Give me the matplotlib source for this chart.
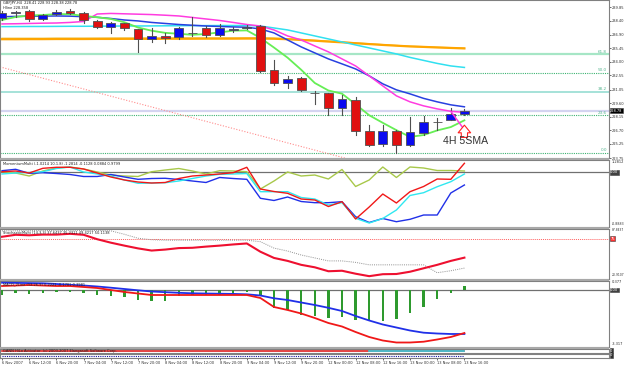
import matplotlib
matplotlib.use('Agg')
import matplotlib.pyplot as plt
from matplotlib.patches import Rectangle

# ---------------- data ----------------
opens  = [238.65,239.25,239.43,238.55,239.11,239.43,239.19,238.40,237.76,238.12,
          237.48,236.42,236.77,236.63,237.06,237.62,236.88,237.45,237.59,237.83,
          233.15,231.73,232.26,230.67,230.67,229.07,229.95,226.58,225.24,226.65,
          225.16,226.41,227.54,227.82,228.41]
highs  = [239.40,239.45,239.50,239.08,239.54,239.61,239.30,238.47,238.29,238.20,
          237.55,237.59,237.06,237.76,238.82,237.83,238.05,237.76,237.94,237.94,
          234.21,232.51,232.37,230.94,230.67,230.49,230.30,227.29,227.29,226.70,
          228.11,228.25,228.00,229.07,228.93]
lows   = [238.50,238.82,238.40,238.47,239.00,239.10,238.12,237.59,237.06,237.41,
          235.10,236.16,236.06,236.42,236.77,236.63,236.77,237.23,237.51,232.97,
          231.55,231.20,230.94,229.53,228.36,228.36,226.23,224.98,224.98,224.28,
          224.98,226.23,226.76,227.75,228.38]
closes = [239.25,239.36,238.55,239.00,239.36,239.19,238.47,237.76,238.12,237.59,
          236.42,236.77,236.59,237.62,237.07,236.88,237.62,237.48,237.76,233.07,
          231.73,232.22,231.02,230.69,229.07,230.03,226.58,225.16,226.65,225.16,
          226.47,227.54,227.64,228.43,228.78]

ma_green   = [238.47,238.79,238.95,239.00,239.10,239.09,238.91,238.76,238.58,238.23,
              237.67,237.33,237.10,237.00,236.89,236.98,237.15,237.33,237.36,236.56,
              235.53,234.45,233.16,231.75,230.95,230.61,229.48,228.31,227.50,226.72,
              226.00,226.20,226.69,227.05,227.77]
ma_magenta = [238.05,238.07,238.10,238.13,238.15,238.21,238.31,239.11,239.17,239.13,
              239.09,239.05,238.98,238.90,238.74,238.58,238.42,238.21,237.99,237.83,
              237.41,236.77,236.34,235.70,235.07,234.32,233.57,232.51,231.44,230.38,
              229.74,229.31,228.99,228.73,228.62]
ma_blue    = [238.82,238.85,238.87,238.89,238.90,238.88,238.82,238.76,238.63,238.47,
              238.37,238.21,238.10,237.99,237.91,237.83,237.78,237.73,237.70,237.51,
              237.09,236.34,235.60,234.96,234.32,233.79,233.25,232.51,231.66,231.02,
              230.59,230.11,229.74,229.42,229.21]
ma_cyan    = [237.76,237.77,237.78,237.78,237.79,237.80,237.80,237.81,237.82,237.83,
              237.83,237.84,237.85,237.86,237.87,237.87,237.88,237.88,237.89,237.83,
              237.62,237.41,237.09,236.77,236.45,236.13,235.81,235.49,235.17,234.85,
              234.48,234.16,233.84,233.57,233.41]
ma_orange  = [236.42,236.42,236.43,236.43,236.44,236.44,236.44,236.45,236.45,236.46,
              236.46,236.46,236.47,236.47,236.47,236.48,236.48,236.48,236.49,236.49,
              236.47,236.42,236.34,236.26,236.17,236.09,235.99,235.90,235.81,235.73,
              235.65,235.60,235.54,235.49,235.44]
ma_gold    = [236.52,236.52,236.52,236.52,236.53,236.53,236.53,236.53,236.54,236.54,
              236.54,236.54,236.54,236.55,236.55,236.55,236.55,236.55,236.56,236.56,
              236.53,236.47,236.39,236.30,236.21,236.12,236.02,235.93,235.84,235.75,
              235.67,235.62,235.56,235.51,235.46]

fib_levels = [224.28, 228.30, 230.79, 232.80, 234.81]
fib_names  = ["0.0", "23.6", "38.2", "50.0", "61.8"]
trend_x = [-0.15, 25.2]
trend_y = [233.47, 223.75]
price_ticks = [223.75,225.25,226.70,228.15,229.60,231.05,232.55,234.00,235.45,236.90,238.40,239.85]

mom_red   = [0.902,0.925,0.860,1.012,1.045,1.045,0.990,0.860,0.731,0.634,
             0.569,0.536,0.553,0.682,0.763,0.795,0.828,0.870,1.045,0.342,
             0.261,0.203,0.018,-0.014,-0.225,-0.069,-0.629,-0.241,0.180,-0.111,
             0.255,0.423,0.666,0.656,1.174]
mom_blue  = [0.935,0.980,0.850,0.870,0.844,0.812,0.747,0.747,0.812,0.731,
             0.656,0.682,0.689,0.650,0.601,0.553,0.715,0.682,0.656,0.041,
             -0.030,0.083,-0.063,-0.101,-0.101,-0.069,-0.555,-0.742,-0.613,-0.717,
             -0.639,-0.500,-0.500,0.213,0.472]
mom_cyan  = [0.828,0.860,0.877,0.902,1.006,1.055,0.893,0.828,0.763,0.634,
             0.527,0.536,0.546,0.601,0.682,0.763,0.818,0.828,0.844,0.255,
             0.255,0.255,0.067,0.018,-0.176,-0.101,-0.607,-0.759,-0.613,-0.338,
             0.132,0.222,0.416,0.578,0.828]
mom_olive = [0.902,0.860,0.763,0.925,1.022,1.055,0.990,0.893,0.795,0.763,
             0.747,0.902,0.957,1.006,0.925,0.828,0.935,0.925,0.902,0.342,
             0.601,0.893,0.763,0.795,0.666,0.974,0.423,0.634,1.055,0.715,
             1.055,1.022,0.941,0.941,0.925]
mom_level = 0.883

st_red  = [77.80,80.48,79.81,80.75,80.75,81.82,80.48,74.46,69.77,65.75,
           62.00,59.06,60.40,62.41,62.81,64.42,65.75,67.36,68.70,57.46,
           49.02,45.00,39.65,36.30,30.95,31.62,27.60,24.25,26.93,27.20,
           30.28,34.96,39.65,45.00,49.42]
st_gray = [85.84,85.84,86.10,86.24,86.50,86.50,86.50,86.50,85.84,81.15,
           75.80,73.79,73.12,73.12,73.12,73.12,73.12,73.12,73.12,71.11,
           62.41,58.39,53.03,49.02,45.00,45.00,43.00,39.65,39.65,39.65,
           39.65,39.65,28.94,31.62,35.23]
st_level = 75.0

hist = [-0.278,-0.183,-0.222,-0.150,-0.095,-0.095,-0.183,-0.278,-0.334,-0.373,
        -0.556,-0.595,-0.595,-0.334,-0.278,-0.278,-0.278,-0.150,-0.095,-0.278,
        -1.017,-1.112,-1.390,-1.446,-1.573,-1.485,-1.668,-1.668,-1.707,-1.629,
        -1.295,-0.929,-0.517,-0.150,0.222]
m_blue = [0.406,0.395,0.384,0.373,0.334,0.289,0.250,0.195,0.128,0.056,
          -0.017,-0.083,-0.122,-0.156,-0.183,-0.195,-0.206,-0.217,-0.239,-0.306,
          -0.461,-0.556,-0.695,-0.834,-0.990,-1.168,-1.446,-1.696,-1.918,-2.085,
          -2.252,-2.374,-2.419,-2.446,-2.446]
m_red  = [0.222,0.250,0.278,0.250,0.222,0.222,0.167,0.111,0.000,-0.111,
          -0.195,-0.278,-0.278,-0.278,-0.278,-0.278,-0.278,-0.278,-0.278,-0.445,
          -0.945,-1.112,-1.307,-1.557,-1.835,-2.029,-2.335,-2.613,-2.808,-2.919,
          -2.919,-2.875,-2.752,-2.613,-2.391]

time_labels = ["6 Nov 2007","6 Nov 12:00","6 Nov 20:00","7 Nov 04:00","7 Nov 12:00",
               "7 Nov 20:00","8 Nov 04:00","8 Nov 12:00","8 Nov 20:00","9 Nov 04:00",
               "9 Nov 12:00","9 Nov 20:00","12 Nov 00:00","12 Nov 08:00","12 Nov 16:00",
               "13 Nov 00:00","13 Nov 08:00","13 Nov 16:00"]

# ---------------- layout ----------------
W, H = 625, 365
fig = plt.figure(figsize=(W/100, H/100), dpi=100)
fig.patch.set_facecolor('white')
XR = 609
n = len(closes)
xs = list(range(n))
XLIM = (-2/13.6, 607/13.6)
FS = 2.6
SP = '#808080'

def make_ax(top, bottom):
    ax = fig.add_axes([0, (H-bottom)/H, XR/W, (bottom-top)/H])
    ax.set_xlim(*XLIM)
    ax.set_facecolor('white')
    for s in ax.spines.values():
        s.set_color(SP); s.set_linewidth(0.8)
    ax.set_xticks([])
    ax.yaxis.tick_right()
    ax.tick_params(axis='y', length=1.5, width=0.5, colors='#303030', labelsize=FS, pad=0.8)
    return ax

def rlabel(ax, y, txt, box=None, fc='black', tc='white', fs=FS):
    if box:
        ax.text(1.002, y, txt, transform=ax.get_yaxis_transform(), fontsize=fs, color=tc,
                va='center', ha='left', bbox=dict(boxstyle='square,pad=0.12', fc=fc, ec='#404040', lw=0.4))
    else:
        ax.text(1.004, y, txt, transform=ax.get_yaxis_transform(), fontsize=fs, color='#303030',
                va='center', ha='left')

# main
ax = make_ax(0, 158)
ax.set_ylim(223.776, 240.603)
ax.set_yticks(price_ticks)
ax.set_yticklabels([f"{v:.2f}" for v in price_ticks])

fib_styles = {"0.0": ('#3CB371', (0, (1, 1)), 0.8), "23.6": ('#3CB371', (0, (1, 1)), 0.8),
              "38.2": ('#9EDFD6', '-', 1.3), "50.0": ('#3CB371', (0, (1, 1)), 0.8),
              "61.8": ('#A6E6C6', '-', 1.6)}
for lv, nm in zip(fib_levels, fib_names):
    c, ls, lw = fib_styles[nm]
    ax.axhline(lv, color=c, ls=ls, lw=lw, zorder=1)
    ax.text(44.5, lv + 0.08, nm, fontsize=3.0, color='#55B58F', ha='right', va='bottom', zorder=2)

ax.axhline(closes[-1], color='#D4D4F0', lw=1.6, zorder=1)
ax.plot(trend_x, trend_y, color='#FF8C8C', lw=0.8, ls=(0, (1, 1.5)), zorder=1)

ax.plot(xs, ma_gold, color='#E8C44A', lw=1.0, zorder=3)
ax.plot(xs, ma_orange, color='#FFA500', lw=1.6, zorder=3)
ax.plot(xs, ma_cyan, color='#30E0F0', lw=1.1, zorder=3)
ax.plot(xs, ma_blue, color='#2840E0', lw=1.1, zorder=3)
ax.plot(xs, ma_magenta, color='#FF3CE0', lw=1.1, zorder=3)
ax.plot(xs, ma_green, color='#66EE55', lw=1.3, zorder=3)

for i in range(n):
    o, h, l, c = opens[i], highs[i], lows[i], closes[i]
    ax.plot([i, i], [l, h], color='#505050', lw=0.8, zorder=4)
    col = '#0A0AF0' if c >= o else '#E01010'
    ax.bar(i, max(abs(c - o), 0.01), bottom=min(o, c), width=0.66, color=col,
           edgecolor='#505050', linewidth=0.6, zorder=5)

ax.plot([33.0, 33.85], [228.73, 227.05], color='#FF3CE0', lw=1.1, zorder=6)
ax.annotate('', xy=(34.0, 227.55), xytext=(34.0, 225.65),
            arrowprops=dict(arrowstyle='simple,head_length=0.55,head_width=0.9,tail_width=0.45',
                            fc='white', ec='#FF2020', lw=0.8), zorder=6)
ax.text(32.45, 225.55, "4H 5SMA", fontsize=7.6, color='#333333', family='Liberation Sans',
        va='center', ha='left', zorder=6)

ax.text(0.005, 0.995, "GBPJPY,H4  228.41 228.93 228.38 228.78", transform=ax.transAxes,
        fontsize=FS, va='top', ha='left', color='#202020')
ax.text(0.005, 0.96, "Hline 228.358", transform=ax.transAxes,
        fontsize=FS, va='top', ha='left', color='#202020')
rlabel(ax, closes[-1], f"{closes[-1]:.2f}", box=True)

# panel 2: momentum
a2 = make_ax(160, 227)
a2.set_ylim(-0.8883, 1.2812)
a2.set_yticks([])
a2.axhline(mom_level, color='#707070', lw=0.9)
a2.plot(xs, mom_olive, color='#A8C84A', lw=1.0)
a2.plot(xs, mom_blue, color='#2030E8', lw=1.0)
a2.plot(xs, mom_cyan, color='#30E8F0', lw=1.0)
a2.plot(xs, mom_red, color='#F01818', lw=1.0)
a2.text(0.005, 0.97, "MomentumMulti (-1.0214 10.1.8) -1.2814 -0.1128 0.0884 0.9799",
        transform=a2.transAxes, fontsize=FS, va='top', ha='left', color='#202020')
rlabel(a2, 1.2812 - 0.07, "1.2812")
rlabel(a2, -0.8883 + 0.1, "-0.8883", fs=2.3)
rlabel(a2, mom_level, "0.00", box=True, fc='#404040', tc='white')

# panel 3
a3 = make_ax(229, 279)
a3.set_ylim(20.9107 - 0.5, 87.8437 + 0.5)
a3.set_yticks([])
a3.axhline(st_level, color='#FF6060', lw=0.7, ls=(0, (1, 1)))
a3.plot(xs, st_gray, color='#909090', lw=0.7, ls=(0, (1, 1.2)))
a3.plot(xs, st_red, color='#EE1030', lw=1.5)
a3.text(0.005, 0.97, "StochasticMulti (14,3,3) 37.6437 35.2311 49.4217 50.1138",
        transform=a3.transAxes, fontsize=FS, va='top', ha='left', color='#202020')
rlabel(a3, 87.8437 - 1.5, "87.8437", fs=2.2)
rlabel(a3, st_level, "75", box=True, fc='#FF3030', tc='white')
rlabel(a3, 20.9107 + 4.5, "20.9107", fs=2.2)

# panel 4
a4 = make_ax(281, 347)
a4.set_ylim(-0.0556 * 57, 0.0556 * 9)
a4.set_yticks([])
a4.axhline(0, color='#707070', lw=0.9, zorder=1)
a4.bar(xs, hist, width=0.18, color='#2E9A2E', zorder=2)
a4.plot(xs, m_blue, color='#2030E8', lw=1.3, zorder=3)
a4.plot(xs, m_red, color='#F01818', lw=1.3, zorder=3)
a4.text(0.005, 0.985, "MACD_2Line (12,26,9) 0.2221 -0.1781 0.3981",
        transform=a4.transAxes, fontsize=FS, va='top', ha='left', color='#202020')
rlabel(a4, 0.42, "0.377")
rlabel(a4, 0, "0.00", box=True, fc='#404040', tc='white')
rlabel(a4, -3.0, "-3.317")

# tiny panels
a5 = make_ax(349, 352.5)
a5.set_ylim(0, 1); a5.set_yticks([])
a5.plot(xs, [0.5] * n, color='#E02020', lw=1.2)
a5.plot(xs[27:], [0.3] * (n - 27), color='#30D0E0', lw=1.2)
a5.text(0.005, 0.5, "GANN HiLo Activator  (c) 2003-2007 Elangasoft Software Corp.",
        transform=a5.transAxes, fontsize=FS, va='center', ha='left', color='#202020')
rlabel(a5, 0.5, "0", box=True, fc='#303030', tc='white')
a6 = make_ax(353.5, 357.5)
a6.set_ylim(0, 1); a6.set_yticks([])
a6.plot(xs, [0.5] * n, color='#1010A0', lw=0.8, ls=(0, (1, 1)))
rlabel(a6, 0.5, "0", box=True, fc='#303030', tc='white')
a6.set_xticks(list(range(0, n, 2)))
a6.set_xticklabels(time_labels, fontsize=FS, color='#303030', ha='left')
a6.tick_params(axis='x', length=1.5, width=0.5, pad=1.0, colors='#303030')

for y0, y1 in [(158, 160), (227, 229), (279, 281), (347, 349)]:
    fig.add_artist(Rectangle((0, 1 - y1/H), XR/W, (y1 - y0)/H, transform=fig.transFigure,
                             facecolor='#A8A8A8', edgecolor='none', zorder=10))

fig.savefig('out.png', dpi=100, facecolor='white')
